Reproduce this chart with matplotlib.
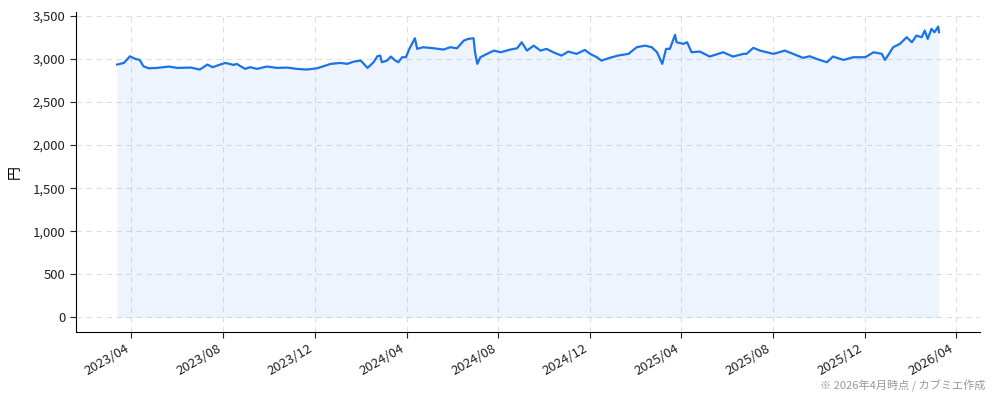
import matplotlib
matplotlib.use("Agg")
import matplotlib.pyplot as plt
import matplotlib.dates as mdates
from matplotlib.ticker import FuncFormatter
import pandas as pd

plt.rcParams['font.family'] = ['Noto Sans CJK JP', 'DejaVu Sans']

# price readings (yen)
dates = [
    "2023-03-13", "2023-03-22", "2023-03-30", "2023-04-06", "2023-04-12",
    "2023-04-17", "2023-04-24", "2023-05-05", "2023-05-21", "2023-06-01",
    "2023-06-19", "2023-07-01", "2023-07-11", "2023-07-18", "2023-07-24",
    "2023-08-04", "2023-08-15", "2023-08-19", "2023-08-30", "2023-09-06",
    "2023-09-15", "2023-09-28", "2023-10-12", "2023-10-25", "2023-11-07",
    "2023-11-20", "2023-12-04", "2023-12-15", "2023-12-22", "2024-01-04",
    "2024-01-13", "2024-01-22", "2024-01-31", "2024-02-09", "2024-02-17",
    "2024-02-22", "2024-02-26", "2024-02-28", "2024-03-06", "2024-03-11",
    "2024-03-17", "2024-03-21", "2024-03-26", "2024-03-31", "2024-04-05",
    "2024-04-12", "2024-04-15", "2024-04-23", "2024-05-07", "2024-05-20",
    "2024-05-29", "2024-06-07", "2024-06-16", "2024-06-22", "2024-06-29",
    "2024-07-01", "2024-07-04", "2024-07-08", "2024-07-17", "2024-07-26",
    "2024-08-04", "2024-08-17", "2024-08-26", "2024-09-01", "2024-09-08",
    "2024-09-17", "2024-09-26", "2024-10-04", "2024-10-13", "2024-10-24",
    "2024-11-02", "2024-11-13", "2024-11-24", "2024-12-01", "2024-12-10",
    "2024-12-16", "2024-12-27", "2025-01-07", "2025-01-21", "2025-02-01",
    "2025-02-12", "2025-02-21", "2025-02-28", "2025-03-07", "2025-03-12",
    "2025-03-17", "2025-03-24", "2025-03-26", "2025-04-04", "2025-04-09",
    "2025-04-15", "2025-04-26", "2025-05-09", "2025-05-27", "2025-06-09",
    "2025-06-23", "2025-06-27", "2025-07-06", "2025-07-15", "2025-07-24",
    "2025-08-02", "2025-08-17", "2025-08-28", "2025-09-10", "2025-09-19",
    "2025-09-28", "2025-10-12", "2025-10-20", "2025-11-03", "2025-11-16",
    "2025-12-02", "2025-12-13", "2025-12-24", "2025-12-28", "2026-01-01",
    "2026-01-08", "2026-01-17", "2026-01-26", "2026-02-02", "2026-02-08",
    "2026-02-15", "2026-02-19", "2026-02-23", "2026-02-28", "2026-03-04",
    "2026-03-09", "2026-03-10",
]
prices = [
    2934, 2953, 3030, 3000, 2988,
    2914, 2891, 2895, 2911, 2895,
    2899, 2876, 2934, 2903, 2922,
    2953, 2930, 2942, 2884, 2903,
    2884, 2911, 2895, 2899, 2884,
    2876, 2891, 2922, 2942, 2953,
    2942, 2969, 2980, 2895, 2961,
    3030, 3038, 2961, 2980, 3027,
    2980, 2961, 3019, 3019, 3123,
    3239, 3116, 3135, 3123, 3108,
    3135, 3123, 3212, 3232, 3239,
    3077, 2942, 3019, 3058, 3096,
    3077, 3108, 3123, 3193, 3096,
    3154, 3096, 3116, 3077, 3038,
    3085, 3058, 3104, 3058, 3019,
    2980, 3012, 3038, 3058, 3135,
    3154, 3135, 3077, 2942, 3116,
    3116, 3278, 3193, 3174, 3193,
    3077, 3085, 3027, 3077, 3027,
    3058, 3058, 3128, 3096, 3077,
    3058, 3096, 3058, 3012, 3030,
    3000, 2961, 3027, 2988, 3019,
    3019, 3077, 3058, 2988, 3038,
    3135, 3174, 3251, 3193, 3270,
    3251, 3328, 3232, 3348, 3309,
    3375, 3309,
]

y_ticks = [0, 500, 1000, 1500, 2000, 2500, 3000, 3500]
line_color = '#1a73e8'


def main():
    x = pd.to_datetime(dates)

    fig = plt.figure(figsize=(9.94, 4.0), dpi=100)
    ax = fig.add_axes([0.0765, 0.17, 0.9095, 0.80])

    ax.fill_between(x, prices, 0, color=line_color, alpha=0.08, linewidth=0)
    ax.plot(x, prices, color=line_color, linewidth=1.6)

    ax.set_yticks(y_ticks)
    ax.yaxis.set_major_formatter(FuncFormatter(lambda v, _: f'{v:,.0f}'))
    ax.xaxis.set_major_locator(mdates.MonthLocator(bymonth=[4, 8, 12]))
    ax.xaxis.set_major_formatter(mdates.DateFormatter('%Y/%m'))

    ax.grid(True, linestyle=(0, (5, 4)), color='#d9d9d9', linewidth=0.8, alpha=0.8)
    ax.set_axisbelow(True)
    for side in ('top', 'right'):
        ax.spines[side].set_visible(False)

    ax.tick_params(labelsize=9.5, length=4, colors='#222222')
    plt.setp(ax.get_xticklabels(), rotation=30, ha='right')
    ax.set_ylabel('円', fontsize=10, labelpad=8)

    fig.text(0.991, 0.035, '※ 2026年4月時点 / カブミエ作成',
             ha='right', va='center', fontsize=8, color='#999999')

    fig.savefig('out.png', dpi=100)


if __name__ == "__main__":
    main()
